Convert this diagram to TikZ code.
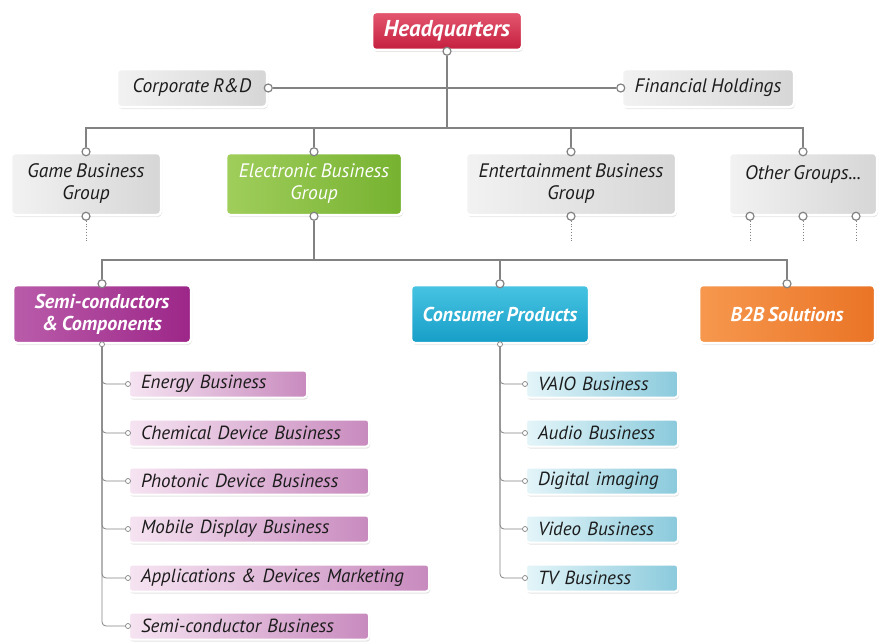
\documentclass[tikz,border=0pt]{standalone}
\usepackage{fontspec}
\setmainfont{PT Sans}[WordSpace=0.75]
\usetikzlibrary{shadows}
\definecolor{linegray}{RGB}{130,130,130}
\definecolor{txtgray}{RGB}{28,28,28}
\definecolor{greyA}{RGB}{242,242,242}
\definecolor{greyB}{RGB}{214,214,214}
\definecolor{hqA}{RGB}{228,88,112}
\definecolor{hqB}{RGB}{196,30,62}
\definecolor{elecA}{RGB}{160,206,92}
\definecolor{elecB}{RGB}{118,178,48}
\definecolor{semiA}{RGB}{186,92,170}
\definecolor{semiB}{RGB}{156,38,136}
\definecolor{consA}{RGB}{72,196,226}
\definecolor{consB}{RGB}{22,158,200}
\definecolor{btobA}{RGB}{246,152,78}
\definecolor{btobB}{RGB}{234,116,38}
\definecolor{semisubA}{RGB}{246,228,242}
\definecolor{semisubB}{RGB}{200,138,190}
\definecolor{conssubA}{RGB}{228,245,249}
\definecolor{conssubB}{RGB}{138,202,220}
\begin{document}
\begin{tikzpicture}[x=1pt,y=-1pt,
    box/.style={rounded corners=4pt, draw=white, line width=2.5pt, inner sep=2pt, align=center,
        font=\fontsize{19.5}{22}\selectfont\itshape,
        drop shadow={shadow xshift=1pt, shadow yshift=-2pt, opacity=0.22}},
    greybox/.style={box, left color=greyA, right color=greyB, text=txtgray},
    colbox/.style={box, text=white},
    boldbox/.style={colbox, font=\fontsize{20}{22}\selectfont\bfseries\itshape},
    subbox/.style={box, rounded corners=3pt, line width=2pt, anchor=west, align=left,
        inner xsep=12pt, minimum height=27, text=txtgray, font=\fontsize{19}{22}\selectfont\itshape},
    port/.style={circle, draw=linegray, fill=white, line width=1.2pt, minimum size=8pt, inner sep=0pt},
    dot/.style={circle, draw=linegray, fill=white, line width=0.7pt, minimum size=5pt, inner sep=0pt},
    link/.style={linegray, line width=1.2pt},
    sublink/.style={linegray, line width=0.8pt, rounded corners=4pt}]
\useasboundingbox (0,0) rectangle (880,642);

% top level
\node[colbox, top color=hqA, bottom color=hqB, minimum width=150, minimum height=38,
    font=\fontsize{23}{24}\selectfont\bfseries\itshape] (hq) at (447,31) {Headquarters};
\node[greybox, minimum width=150, minimum height=38] (rnd) at (192,88) {Corporate R\&D};
\node[greybox, minimum width=172, minimum height=38] (fin) at (708,88) {Financial Holdings};

% groups
\node[greybox, minimum width=150, minimum height=62] (game) at (86,184) {Game Business\\Group};
\node[colbox, left color=elecA, right color=elecB, minimum width=176, minimum height=62] (elec) at (314,184) {Electronic Business\\Group};
\node[greybox, minimum width=210, minimum height=62] (ent) at (571,184) {Entertainment Business\\Group};
\node[greybox, minimum width=148, minimum height=62] (other) at (803,184) {Other Groups...\\\mbox{}};

% electronic sub groups
\node[boldbox, left color=semiA, right color=semiB, minimum width=178, minimum height=58] (semi) at (102,314) {Semi-conductors\\\& Components};
\node[boldbox, top color=consA, bottom color=consB, minimum width=178, minimum height=58] (cons) at (500,314) {Consumer Products};
\node[boldbox, left color=btobA, right color=btobB, minimum width=176, minimum height=58] (btob) at (787,314) {B2B Solutions};

% ports
\node[port] (hq-p) at (hq.south) {};
\node[port] (rnd-p) at (rnd.east) {};
\node[port] (fin-p) at (fin.west) {};
\foreach \g in {game,elec,ent,other,semi,cons,btob}
    \node[port] (\g-n) at (\g.north) {};
\foreach \g in {game,elec,ent}
    \node[port] (\g-s) at (\g.south) {};
\node[port] (other-s1) at ([xshift=-53pt]other.south) {};
\node[port] (other-s2) at (other.south) {};
\node[port] (other-s3) at ([xshift=53pt]other.south) {};
\node[dot] (semi-s) at (semi.south) {};
\node[dot] (cons-s) at (cons.south) {};

\coordinate (bar) at (447,128);
\coordinate (bar2) at (314,260);
\draw[link] (hq-p) -- (bar);
\draw[link] (rnd-p) -- (fin-p);
\draw[link] (game-n) |- (bar) -| (other-n);
\foreach \g in {elec,ent}
    \draw[link] (\g-n) -- (\g-n |- bar);
\draw[link] (elec-s) -- (bar2);
\draw[link] (semi-n) |- (bar2) -| (btob-n);
\draw[link] (cons-n) -- (cons-n |- bar2);
\foreach \g in {game-s,ent-s,other-s1,other-s2,other-s3}
    \draw[linegray, line width=0.8pt, dotted] (\g) -- ++(0,26);

% semi-conductor businesses
\foreach \n/\t/\tw/\y in {sa/Energy Business/154/384, sb/Chemical Device Business/216/433,
        sc/Photonic Device Business/216/481, sd/Mobile Display Business/216/529,
        se/Applications \& Devices Marketing/276/578, sf/Semi-conductor Business/216/626} {
    \node[subbox, left color=semisubA, right color=semisubB, text width=\tw pt] (\n) at (128,\y) {\t};
    \node[dot] (\n-p) at (\n.west) {};
    \draw[sublink] (semi-s) |- (\n-p);
}

% consumer businesses
\foreach \n/\t/\y in {ca/VAIO Business/384, cb/Audio Business/433, cc/Digital imaging/481,
        cd/Video Business/529, ce/TV Business/578} {
    \node[subbox, left color=conssubA, right color=conssubB, text width=128pt] (\n) at (525,\y) {\t};
    \node[dot] (\n-p) at (\n.west) {};
    \draw[sublink] (cons-s) |- (\n-p);
}
\end{tikzpicture}
\end{document}
